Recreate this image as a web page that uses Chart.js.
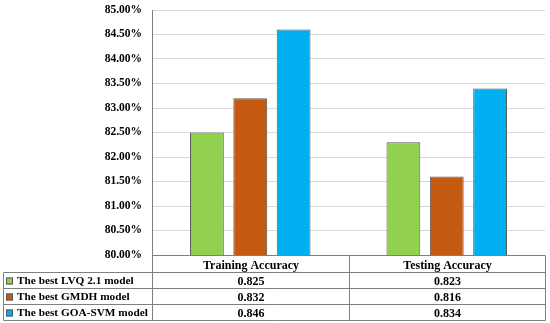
<!DOCTYPE html>
<html>
<head>
<meta charset="utf-8">
<script src="https://cdn.jsdelivr.net/npm/chart.js@4"></script>
<style>
  html, body { margin: 0; padding: 0; background: #fff; }
  #wrap { width: 550px; height: 323px; position: relative; }
</style>
</head>
<body>
<div id="wrap"><canvas id="accChart"></canvas></div>
<script>
const categories = ['Training Accuracy', 'Testing Accuracy'];
const seriesNames = ['The best LVQ 2.1 model', 'The best GMDH model', 'The best GOA-SVM model'];
const lvqValues = [0.825, 0.823];
const gmdhValues = [0.832, 0.816];
const goaValues = [0.846, 0.834];
const colors = ['#92D050', '#C55A11', '#00B0F0'];

const ROW_H = 16.1;
const FONT = 'Liberation Serif';

// data table under the plot, like the excel one
const dataTable = {
  id: 'dataTable',
  afterDraw(chart) {
    const { ctx, chartArea, scales } = chart;
    const x = scales.x;
    const left = Math.round(chartArea.left) + 0.5;
    const right = Math.round(chartArea.right) + 0.5;
    const mid = Math.round((x.getPixelForValue(0) + x.getPixelForValue(1)) / 2) + 0.5;
    const top = Math.round(chartArea.bottom) + 0.5;
    const outerLeft = 3.5;
    const rows = [0, 1, 2, 3, 4].map(i => Math.round(top + i * ROW_H) + 0.5);
    const bottom = rows[4];

    ctx.save();
    ctx.strokeStyle = '#7f7f7f';
    ctx.lineWidth = 1;
    ctx.beginPath();
    ctx.moveTo(left, top); ctx.lineTo(right, top);
    for (let i = 1; i <= 4; i++) { ctx.moveTo(outerLeft, rows[i]); ctx.lineTo(right, rows[i]); }
    ctx.moveTo(left, top); ctx.lineTo(left, bottom);
    ctx.moveTo(mid, top); ctx.lineTo(mid, bottom);
    ctx.moveTo(right, top); ctx.lineTo(right, bottom);
    ctx.moveTo(outerLeft, rows[1]); ctx.lineTo(outerLeft, bottom);
    ctx.stroke();

    ctx.fillStyle = '#000';
    ctx.font = 'bold 12px ' + FONT;
    ctx.textAlign = 'center';
    ctx.textBaseline = 'middle';
    const centers = [(left + mid) / 2, (mid + right) / 2];
    categories.forEach((c, i) => ctx.fillText(c, centers[i], (rows[0] + rows[1]) / 2 + 1));

    chart.data.datasets.forEach((ds, r) => {
      const cy = (rows[r + 1] + rows[r + 2]) / 2 + 1;
      ctx.fillStyle = ds.backgroundColor;
      ctx.fillRect(6, cy - 4, 7, 7);
      ctx.strokeStyle = '#595959';
      ctx.strokeRect(6.5, cy - 3.5, 6, 6);
      ctx.fillStyle = '#000';
      ctx.textAlign = 'left';
      ctx.font = 'bold 11.3px ' + FONT;
      ctx.fillText(ds.label, 17, cy);
      ctx.textAlign = 'center';
      ctx.font = 'bold 12px ' + FONT;
      ds.raw.forEach((v, i) => ctx.fillText(v.toFixed(3), centers[i], cy));
    });
    ctx.restore();
  }
};

const rawSets = [lvqValues, gmdhValues, goaValues];

new Chart(document.getElementById('accChart'), {
  type: 'bar',
  data: {
    labels: categories,
    datasets: rawSets.map((vals, i) => ({
      label: seriesNames[i],
      raw: vals,
      data: vals.map(v => v * 100),
      backgroundColor: colors[i],
      borderColor: '#595959',
      borderWidth: 1,
      categoryPercentage: 0.662,
      barPercentage: 0.78
    }))
  },
  options: {
    responsive: true,
    maintainAspectRatio: false,
    animation: false,
    layout: { padding: { top: 10, right: 5, bottom: 68, left: 0 } },
    plugins: { legend: { display: false }, tooltip: { enabled: false } },
    scales: {
      x: { display: false },
      y: {
        min: 80,
        max: 85,
        afterFit(scale) {
          scale.width = 152;
          scale.paddingTop = 0;
          scale.paddingBottom = 0;
        },
        ticks: {
          stepSize: 0.5,
          padding: 10,
          color: '#000',
          font: { family: FONT, weight: 'bold', size: 11.5 },
          callback: v => v.toFixed(2) + '%'
        },
        grid: { color: '#d9d9d9', drawTicks: false },
        border: { color: '#7f7f7f' }
      }
    }
  },
  plugins: [dataTable]
});
</script>
</body>
</html>
